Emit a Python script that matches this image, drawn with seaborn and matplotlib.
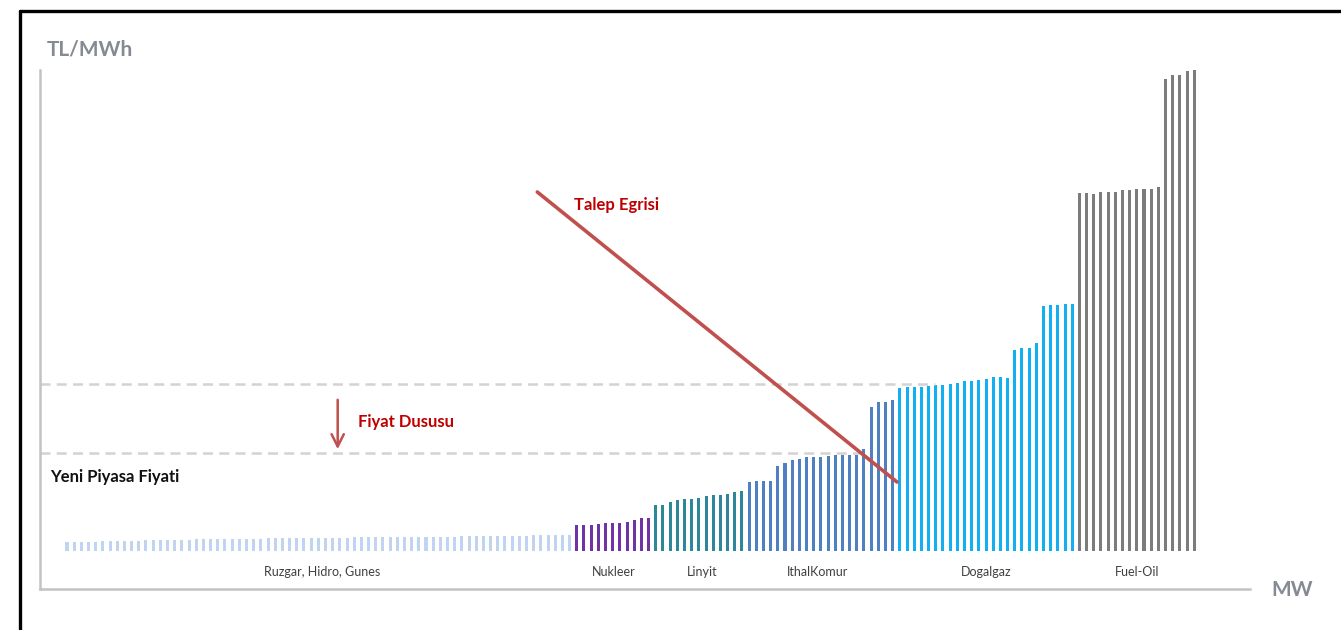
import pandas as pd
import seaborn as sns
import matplotlib.pyplot as plt
from matplotlib.lines import Line2D

# merit order (TL/MWh), one value per plant block
ruzgar_hidro_gunes = [4.5, 4.5, 4.5, 4.5, 4.5,
                      5, 5, 5, 5, 5, 5,
                      5.5, 5.5, 5.5, 5.5, 5.5, 5.5, 5.5,
                      6, 6, 6, 6, 6, 6, 6, 6, 6, 6,
                      6.5, 6.5, 6.5, 6.5, 6.5, 6.5, 6.5, 6.5, 6.5, 6.5, 6.5, 6.5,
                      7, 7, 7, 7, 7, 7, 7, 7, 7, 7, 7, 7, 7, 7, 7,
                      7.5, 7.5, 7.5, 7.5, 7.5, 7.5, 7.5, 7.5, 7.5, 7.5,
                      8, 8, 8, 8, 8, 8]
nukleer = [13, 13, 13, 13.5, 14, 14, 14, 14.5, 15.5, 16.5, 16.5]
linyit = [23, 23, 24.5, 25.5, 26, 26, 26.5, 27.5, 28, 28, 28.5, 29.5, 30]
ithal_komur = [34.5, 35, 35, 35, 42.5, 44, 45.5, 46, 47, 47, 47, 47.5,
               48, 48, 48, 48, 51, 72, 74.5, 74.5, 75.5]
dogalgaz = [81.5, 82, 82, 82, 82.5, 83, 83, 83.5, 84, 85, 85, 85.5, 86,
            87, 87, 86.5, 100.5, 101.5, 101.5, 104, 122.5, 123, 123, 123.5, 123.5]
fuel_oil = [179, 179, 178.5, 179.5, 179.5, 179.5, 180.5, 180.5, 181, 181, 181, 182,
            236, 238, 238, 240, 240.5]

groups = ['Ruzgar, Hidro, Gunes', 'Nukleer', 'Linyit', 'IthalKomur', 'Dogalgaz', 'Fuel-Oil']
group_values = [ruzgar_hidro_gunes, nukleer, linyit, ithal_komur, dogalgaz, fuel_oil]
group_colors = ['#bed4f0', '#7033a6', '#2e8799', '#4f80c2', '#12b0f2', '#7c7c7c']
label_pos = [35.5, 76.2, 88.4, 104.5, 128, 149]

old_price = 83.5
new_price = 49
demand_mw = [65.5, 115.6]
demand_price = [179.5, 34.5]

rows = []
for g, vals in zip(groups, group_values):
    for v in vals:
        rows.append({'blok': len(rows), 'fiyat': v, 'kaynak': g})
df = pd.DataFrame(rows)

sns.set_style('white')
plt.rcParams['font.family'] = ['Lato', 'DejaVu Sans']

fig = plt.figure(figsize=(13.41, 6.30), dpi=100)
W, H = 1341, 630
# axes: left spine at x=40px, bottom at y=589px, top at 70px, right end 1250px
ax = fig.add_axes([40 / W, 1 - 589 / H, (1250 - 40) / W, (589 - 70) / H])

sns.barplot(data=df, x='blok', y='fiyat', hue='kaynak', hue_order=groups,
            palette=dict(zip(groups, group_colors)), native_scale=True,
            saturation=1, width=0.42, errorbar=None, legend=False, ax=ax,
            linewidth=0)

ax.set_xlim((40 - 67) / 7.18, (1250 - 67) / 7.18)
ax.set_ylim(-(589 - 551) / 2, (551 - 70) / 2)
ax.set_xticks([])
ax.set_yticks([])
ax.set_xlabel('')
ax.set_ylabel('')
sns.despine(ax=ax)
for s in ['left', 'bottom']:
    ax.spines[s].set_color('#c3c3c3')
    ax.spines[s].set_linewidth(1.8)

# price lines
ax.plot([ax.get_xlim()[0], 120.9], [old_price, old_price], ls=(0, (4, 2.5)),
        color='#d3d3d3', lw=1.8, zorder=1)
ax.plot([ax.get_xlim()[0], 111.4], [new_price, new_price], ls=(0, (4, 2.5)),
        color='#d3d3d3', lw=1.8, zorder=1)

# demand curve
ax.plot(demand_mw, demand_price, color='#c0504d', lw=2.6, zorder=5)
ax.text(70.6, 173, 'Talep Egrisi', color='#c00000', fontsize=12,
        fontweight='bold', va='center')

# price drop arrow
ax.annotate('', xy=(37.7, new_price + 0.5), xytext=(37.7, 77),
            arrowprops=dict(arrowstyle='->', color='#c0504d', lw=1.8,
                            mutation_scale=22))
ax.text(40.5, 64.5, 'Fiyat Dususu', color='#c00000', fontsize=12,
        fontweight='bold', va='center')
ax.text(-2.4, 37, 'Yeni Piyasa Fiyati', color='#111111', fontsize=12,
        fontweight='bold', va='center')

for g, xp in zip(groups, label_pos):
    ax.text(xp, -10.5, g, ha='center', va='center', fontsize=9, color='#404040')

fig.text(47 / W, 1 - 50 / H, 'TL/MWh', fontsize=15, fontweight='bold',
         color='#868a93', va='center')
fig.text(1271 / W, 1 - 590 / H, 'MW', fontsize=15, fontweight='bold',
         color='#868a93', va='center')

# black frame (left and top)
fig.add_artist(Line2D([20 / W, 20 / W], [0, 1 - 11 / H], color='black', lw=2.4))
fig.add_artist(Line2D([20 / W, 1], [1 - 11 / H, 1 - 11 / H], color='black', lw=2.4))

fig.savefig('out.png', dpi=100)
